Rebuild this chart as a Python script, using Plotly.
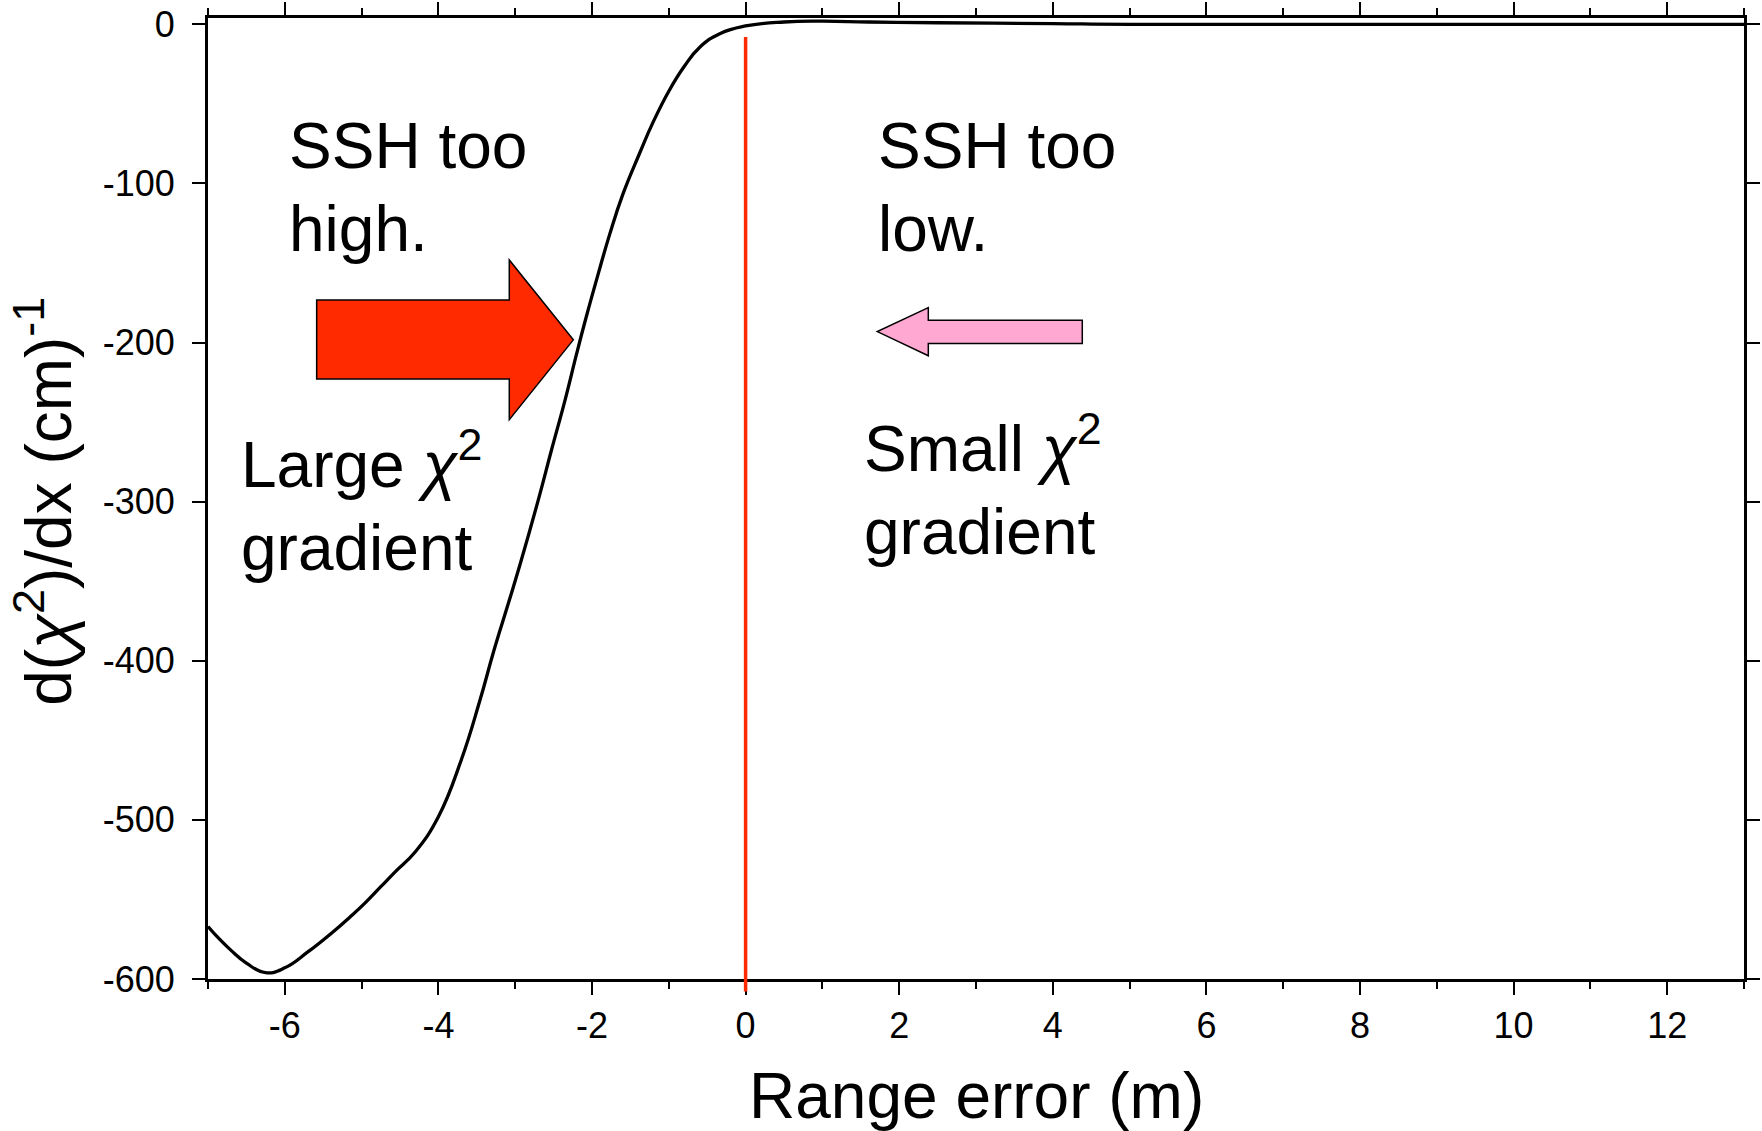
import plotly.graph_objects as go

# ---- data ----
range_error_m = [-7.0, -6.85, -6.7, -6.5, -6.25, -6.0, -5.7, -5.4, -5.15, -4.95,
                 -4.75, -4.55, -4.3, -4.0, -3.7, -3.46, -3.28, -3.09, -2.94, -2.7,
                 -2.53, -2.35, -2.2, -2.07, -1.92, -1.77, -1.6, -1.38, -1.2, -1.0,
                 -0.8, -0.6, -0.33, 0.0, 0.5, 1.0, 1.6, 2.5, 4.0, 5.0, 13.0]
dchi2_dx = [-567, -575, -582, -590, -596, -593, -583, -571.5, -561, -552,
            -542, -532, -520, -498, -462, -425, -394, -364, -340, -299,
            -268, -236, -207, -183, -157, -132, -107, -81, -61, -42,
            -26.5, -14.5, -5.7, -1, 1.5, 2, 1.5, 1, 0.5, 0, 0]

x_tick_vals = [-6, -4, -2, 0, 2, 4, 6, 8, 10, 12]
x_tick_text = ["-6", "-4", "-2", "0", "2", "4", "6", "8", "10", "12"]
y_tick_vals = [0, -100, -200, -300, -400, -500, -600]
y_tick_text = ["0", "-100", "-200", "-300", "-400", "-500", "-600"]

x_range = [-7, 13]
y_range = [-600, 4]
zero_line_top = -8

FONT = "Arial, Liberation Sans, sans-serif"

fig = go.Figure()
fig.add_trace(go.Scatter(
    x=range_error_m, y=dchi2_dx, mode="lines",
    line=dict(color="black", width=3.3, shape="spline", smoothing=1.3),
    showlegend=False, hoverinfo="skip"))

# red vertical line at zero (runs slightly past the bottom frame)
top_paper = (zero_line_top - y_range[0]) / (y_range[1] - y_range[0])
fig.add_shape(type="line", xref="x", yref="paper", x0=0, x1=0, y0=top_paper, y1=-0.013,
              line=dict(color="#FF2A00", width=3.5), layer="above")

# big red arrow (pointing right)
red_arrow = [(-5.585, -173.2), (-3.077, -173.2), (-3.077, -148.1), (-2.243, -198.3),
             (-3.077, -248.5), (-3.077, -222.9), (-5.585, -222.9)]
path = "M " + " L ".join(f"{x},{y}" for x, y in red_arrow) + " Z"
fig.add_shape(type="path", xref="x", yref="y", path=path,
              fillcolor="#FF2A00", line=dict(color="black", width=1.5), layer="above")

# small pink arrow (pointing left)
pink_arrow = [(4.384, -185.9), (2.379, -185.9), (2.379, -178.0), (1.715, -193.1),
              (2.379, -208.3), (2.379, -200.6), (4.384, -200.6)]
path = "M " + " L ".join(f"{x},{y}" for x, y in pink_arrow) + " Z"
fig.add_shape(type="path", xref="x", yref="y", path=path,
              fillcolor="#FFA8D2", line=dict(color="black", width=1.5), layer="above")

ann_font = dict(family=FONT, size=64, color="black")
texts = [
    (-5.975, -52.5, "SSH too<br>high."),
    (1.70, -52.5, "SSH too<br>low."),
    (-6.60, -247.0, "Large <i>χ</i><sup>2</sup><br>gradient"),
    (1.515, -236.5, "Small <i>χ</i><sup>2</sup><br>gradient"),
]
for x, y, t in texts:
    fig.add_annotation(x=x, y=y, xref="x", yref="y", text=t, showarrow=False,
                       xanchor="left", yanchor="top", align="left", font=ann_font)

# axis titles
fig.add_annotation(x=0.5, y=-0.1217, xref="paper", yref="paper",
                   text="Range error (m)", showarrow=False,
                   xanchor="center", yanchor="middle",
                   font=dict(family=FONT, size=64, color="black"))
fig.add_annotation(x=-0.1065, y=0.497, xref="paper", yref="paper",
                   text="d(<i>χ</i><sup>2</sup>)/dx (cm)<sup>-1</sup>", showarrow=False,
                   textangle=-90, xanchor="center", yanchor="middle",
                   font=dict(family=FONT, size=64, color="black"))

fig.update_layout(
    width=1762, height=1131,
    margin=dict(l=208, r=18, t=18, b=152, autoexpand=False),
    paper_bgcolor="white", plot_bgcolor="white", showlegend=False,
    font=dict(family=FONT, size=36, color="black"),
    xaxis=dict(range=x_range, tickvals=x_tick_vals, ticktext=x_tick_text,
               automargin=False,
               showgrid=False, zeroline=False, showline=True, linecolor="black",
               linewidth=3, mirror="ticks", ticks="outside", ticklen=13,
               tickwidth=2, tickcolor="black",
               tickfont=dict(family=FONT, size=36, color="black"),
               minor=dict(dtick=1, tick0=0, ticks="outside", ticklen=7,
                          tickwidth=2, tickcolor="black", showgrid=False)),
    yaxis=dict(range=y_range, tickvals=y_tick_vals, ticktext=y_tick_text,
               automargin=False,
               showgrid=False, zeroline=False, showline=True, linecolor="black",
               linewidth=3, mirror="ticks", ticks="outside", ticklen=13,
               tickwidth=2, tickcolor="black", ticklabelstandoff=10,
               tickfont=dict(family=FONT, size=36, color="black")),
)

fig.write_html("out.html")
